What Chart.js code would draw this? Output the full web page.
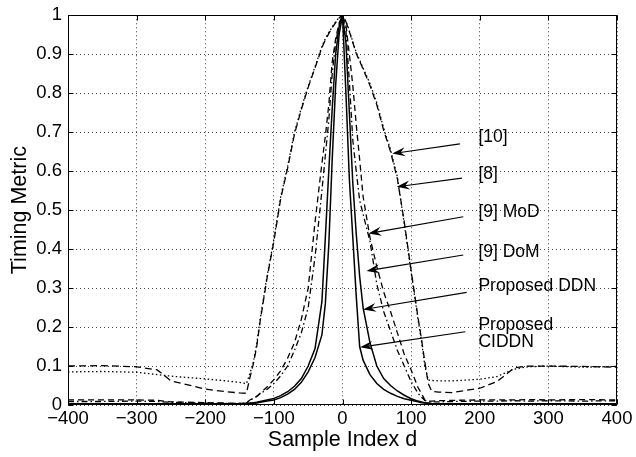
<!DOCTYPE html>
<html>
<head>
<meta charset="utf-8">
<script src="https://cdn.jsdelivr.net/npm/chart.js@4.4.0/dist/chart.umd.min.js"></script>
<style>
  html, body { margin: 0; padding: 0; background: #fff; }
  canvas { display: block; }
</style>
</head>
<body>
<canvas id="myChart" width="636" height="457"></canvas>
<script>
var sampleIdx = [-400, -350, -300, -270, -250, -200, -170, -150, -140, -135,
                 -130, -125, -120, -110, -100, -90, -80, -70, -60, -50,
                 -40, -30, -25, -20, -15, -10, -5, 0, 5, 10,
                 15, 20, 25, 30, 40, 50, 60, 70, 80, 90,
                 100, 110, 115, 120, 125, 130, 140, 160, 200, 225,
                 250, 270, 300, 350, 400];

// [10]
var ref10 = [0.085, 0.086, 0.084, 0.078, 0.074, 0.067, 0.062, 0.058, 0.055, 0.08,
             0.11, 0.156, 0.22, 0.33, 0.425, 0.535, 0.612, 0.70, 0.762, 0.818,
             0.868, 0.92, 0.94, 0.956, 0.97, 0.983, 0.994, 1.0, 0.985, 0.96,
             0.932, 0.905, 0.885, 0.865, 0.825, 0.775, 0.71, 0.655, 0.585, 0.465,
             0.34, 0.22, 0.165, 0.1, 0.064, 0.063, 0.062, 0.062, 0.066, 0.073,
             0.092, 0.098, 0.1, 0.097, 0.099];

// [8]
var ref8 = [0.1, 0.101, 0.098, 0.09, 0.062, 0.041, 0.034, 0.031, 0.03, 0.07,
            0.105, 0.15, 0.215, 0.325, 0.42, 0.53, 0.607, 0.695, 0.758, 0.815,
            0.865, 0.917, 0.937, 0.953, 0.968, 0.981, 0.993, 1.0, 0.983, 0.958,
            0.93, 0.902, 0.882, 0.862, 0.82, 0.77, 0.705, 0.65, 0.58, 0.47,
            0.345, 0.225, 0.17, 0.11, 0.055, 0.035, 0.033, 0.032, 0.043, 0.06,
            0.095, 0.1, 0.1, 0.099, 0.097];

// [9] MoD
var ref9MoD = [0.013, 0.013, 0.013, 0.012, 0.008, 0.006, 0.005, 0.004, 0.005, 0.013,
               0.017, 0.022, 0.03, 0.046, 0.065, 0.088, 0.12, 0.16, 0.22, 0.3,
               0.47, 0.62, 0.69, 0.77, 0.88, 0.94, 0.98, 1.0, 0.975, 0.9,
               0.82, 0.72, 0.63, 0.535, 0.43, 0.355, 0.29, 0.24, 0.185, 0.13,
               0.09, 0.045, 0.03, 0.013, 0.01, 0.01, 0.011, 0.012, 0.013, 0.013,
               0.013, 0.014, 0.013, 0.014, 0.013];

// [9] DoM
var ref9DoM = [0.009, 0.009, 0.01, 0.009, 0.007, 0.005, 0.004, 0.004, 0.005, 0.012,
               0.017, 0.022, 0.029, 0.04, 0.055, 0.075, 0.1, 0.14, 0.185, 0.25,
               0.38, 0.55, 0.64, 0.73, 0.85, 0.93, 0.975, 1.0, 0.96, 0.83,
               0.68, 0.6, 0.525, 0.49, 0.42, 0.31, 0.24, 0.19, 0.14, 0.1,
               0.06, 0.03, 0.02, 0.012, 0.009, 0.008, 0.008, 0.009, 0.01, 0.01,
               0.011, 0.01, 0.011, 0.01, 0.011];

// Proposed DDN
var propDDN = [0.003, 0.003, 0.003, 0.003, 0.003, 0.003, 0.003, 0.003, 0.004, 0.005,
               0.006, 0.007, 0.009, 0.013, 0.017, 0.024, 0.034, 0.048, 0.068, 0.1,
               0.145, 0.265, 0.43, 0.6, 0.76, 0.9, 0.97, 1.0, 0.93, 0.75,
               0.57, 0.44, 0.33, 0.25, 0.16, 0.1, 0.068, 0.05, 0.036, 0.025,
               0.016, 0.01, 0.008, 0.006, 0.005, 0.004, 0.003, 0.003, 0.003, 0.003,
               0.003, 0.003, 0.003, 0.003, 0.003];

// Proposed CIDDN
var propCIDDN = [0.002, 0.002, 0.002, 0.002, 0.002, 0.002, 0.002, 0.002, 0.003, 0.003,
                 0.004, 0.005, 0.007, 0.01, 0.013, 0.019, 0.028, 0.04, 0.058, 0.085,
                 0.122, 0.18, 0.26, 0.41, 0.63, 0.82, 0.95, 1.0, 0.8, 0.58,
                 0.43, 0.28, 0.15, 0.115, 0.078, 0.055, 0.04, 0.03, 0.022, 0.016,
                 0.012, 0.008, 0.006, 0.005, 0.004, 0.003, 0.002, 0.002, 0.002, 0.002,
                 0.002, 0.002, 0.002, 0.002, 0.002];

var xTicks = [-400, -300, -200, -100, 0, 100, 200, 300, 400];
var yTicks = [0, 0.1, 0.2, 0.3, 0.4, 0.5, 0.6, 0.7, 0.8, 0.9, 1];

// Labels with arrows (text position, arrow tail, arrow tip) in data units
var notes = [
    { text: ['[10]'],         tx: 198, ty: 0.686, from: [171, 0.670], to: [72.5, 0.645] },
    { text: ['[8]'],          tx: 198, ty: 0.592, from: [174, 0.582], to: [79, 0.560] },
    { text: ['[9] MoD'],      tx: 198, ty: 0.496, from: [176, 0.483], to: [37.7, 0.440] },
    { text: ['[9] DoM'],      tx: 198, ty: 0.392, from: [176, 0.385], to: [35, 0.344] },
    { text: ['Proposed DDN'], tx: 198, ty: 0.305, from: [181, 0.289], to: [30, 0.245] },
    { text: ['Proposed', 'CIDDN'], tx: 198, ty: 0.206, from: [179, 0.188], to: [25.5, 0.148] }
];

var FONT = '"Liberation Sans", Arial, Helvetica, sans-serif';
Chart.defaults.font.family = FONT;
Chart.defaults.color = '#000';

function toPoints(vals) {
    return sampleIdx.map(function (d, i) {
        return { x: d, y: vals[i] };
    });
}

function series(label, vals, dash, width) {
    return {
        label: label,
        data: toPoints(vals),
        borderColor: '#000',
        borderWidth: width,
        borderDash: dash,
        pointRadius: 0,
        tension: 0,
        fill: false
    };
}

// Box round the plot with small inward ticks (like the MATLAB axes)
var framePlugin = {
    id: 'frame',
    afterDatasetsDraw: function (chart) {
        var ctx = chart.ctx;
        var a = chart.chartArea;
        var xs = chart.scales.x, ys = chart.scales.y;
        var L = Math.round(a.left) + 0.5, R = Math.round(a.right) - 0.5;
        var T = Math.round(a.top) + 0.5, B = Math.round(a.bottom) - 0.5;
        ctx.save();
        ctx.strokeStyle = '#000';
        ctx.lineWidth = 1;
        ctx.setLineDash([]);
        ctx.strokeRect(L, T, R - L, B - T);
        ctx.beginPath();
        xTicks.forEach(function (v) {
            var px = Math.round(xs.getPixelForValue(v)) + 0.5;
            ctx.moveTo(px, B); ctx.lineTo(px, B - 5);
            ctx.moveTo(px, T); ctx.lineTo(px, T + 5);
        });
        yTicks.forEach(function (v) {
            var py = Math.round(ys.getPixelForValue(v)) + 0.5;
            ctx.moveTo(L, py); ctx.lineTo(L + 5, py);
            ctx.moveTo(R, py); ctx.lineTo(R - 5, py);
        });
        ctx.stroke();
        ctx.restore();
    }
};

function drawArrow(ctx, x1, y1, x2, y2) {
    var ang = Math.atan2(y2 - y1, x2 - x1);
    var c = Math.cos(ang), s = Math.sin(ang);
    var len = 13, half = 4.5;
    ctx.beginPath();
    ctx.moveTo(x1, y1);
    ctx.lineTo(x2 - c * 8, y2 - s * 8);
    ctx.stroke();
    ctx.beginPath();
    ctx.moveTo(x2, y2);
    ctx.lineTo(x2 - len * c + half * s, y2 - len * s - half * c);
    ctx.lineTo(x2 - 0.65 * len * c, y2 - 0.65 * len * s);
    ctx.lineTo(x2 - len * c - half * s, y2 - len * s + half * c);
    ctx.closePath();
    ctx.fill();
}

var notesPlugin = {
    id: 'notes',
    afterDatasetsDraw: function (chart) {
        var ctx = chart.ctx;
        var xs = chart.scales.x, ys = chart.scales.y;
        ctx.save();
        ctx.strokeStyle = '#000';
        ctx.fillStyle = '#000';
        ctx.lineWidth = 1.1;
        ctx.setLineDash([]);
        ctx.font = '17.5px ' + FONT;
        ctx.textAlign = 'left';
        ctx.textBaseline = 'middle';
        notes.forEach(function (n) {
            var tx = xs.getPixelForValue(n.tx), ty = ys.getPixelForValue(n.ty);
            n.text.forEach(function (line, i) {
                ctx.fillText(line, tx, ty + i * 17);
            });
            drawArrow(ctx,
                xs.getPixelForValue(n.from[0]), ys.getPixelForValue(n.from[1]),
                xs.getPixelForValue(n.to[0]), ys.getPixelForValue(n.to[1]));
        });
        ctx.restore();
    }
};

var ctx = document.getElementById('myChart').getContext('2d');
var myChart = new Chart(ctx, {
    type: 'line',
    data: {
        datasets: [
            series('[10]', ref10, [1.5, 2.5], 1.3),
            series('[8]', ref8, [7, 4], 1.3),
            series('[9] MoD', ref9MoD, [6, 4], 1.3),
            series('[9] DoM', ref9DoM, [6, 3, 1.5, 3], 1.3),
            series('Proposed DDN', propDDN, [], 1.5),
            series('Proposed CIDDN', propCIDDN, [], 1.5)
        ]
    },
    options: {
        responsive: false,
        animation: false,
        layout: { padding: { top: 9, right: 19, left: 0, bottom: 0 } },
        scales: {
            x: {
                type: 'linear',
                min: -400,
                max: 400,
                afterBuildTicks: function (scale) {
                    scale.ticks = xTicks.map(function (v) { return { value: v }; });
                },
                afterFit: function (scale) { scale.height = 52; },
                ticks: {
                    font: { size: 18.5 },
                    color: '#000',
                    padding: 3,
                    maxRotation: 0,
                    callback: function (v) { return v < 0 ? '\u2212' + Math.abs(v) : String(v); }
                },
                grid: { color: '#444', lineWidth: 1, drawTicks: false },
                border: { display: false, dash: [1, 3] },
                title: { display: true, text: 'Sample Index d', font: { size: 21.5 }, color: '#000', padding: { top: 0, bottom: 4 } }
            },
            y: {
                min: 0,
                max: 1,
                afterBuildTicks: function (scale) {
                    scale.ticks = yTicks.map(function (v) { return { value: v }; });
                },
                afterFit: function (scale) { scale.width = 68; },
                ticks: {
                    font: { size: 18.5, lineHeight: 1 },
                    color: '#000',
                    padding: 6,
                    callback: function (v) { return String(v); }
                },
                grid: { color: '#444', lineWidth: 1, drawTicks: false },
                border: { display: false, dash: [1, 3] },
                title: { display: true, text: 'Timing Metric', font: { size: 21.5 }, color: '#000', padding: { top: 7, bottom: 0 } }
            }
        },
        plugins: {
            legend: { display: false },
            tooltip: { enabled: false }
        }
    },
    plugins: [framePlugin, notesPlugin]
});
</script>
</body>
</html>
